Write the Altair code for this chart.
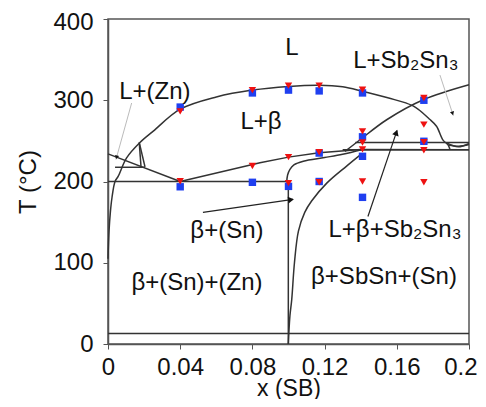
import math
import altair as alt
import pandas as pd

# ---------------- phase boundary data (x = mole fraction SB, T in deg C) ----------------
liq_x = [0.0, 0.0006, 0.0013, 0.0022, 0.0039, 0.0057, 0.0103, 0.0177, 0.0251, 0.04, 0.06,
         0.08, 0.1, 0.117, 0.13, 0.141, 0.155, 0.169, 0.178, 0.182, 0.1856, 0.1884, 0.1895]
liq_T = [105, 140, 162, 180, 200, 206.5, 229, 248, 262, 289, 304,
         312.5, 317, 318.5, 316.5, 311, 303, 293, 277, 268, 251, 245, 239]

sbsn_x = [0.1313, 0.14, 0.1544, 0.1747, 0.2]
sbsn_T = [237, 252, 276, 300.6, 319]

corner_x = [0.099, 0.0995, 0.1008, 0.103, 0.1082, 0.12, 0.13, 0.141]
corner_T = [199, 208, 215, 220.5, 225, 229.5, 233.5, 239.5]

solvus_x = [0.0999, 0.1002, 0.1008, 0.1018, 0.1033, 0.1055, 0.109, 0.1128, 0.1212, 0.1322, 0.1405]
solvus_T = [0, 14, 35, 55, 100, 139, 162, 176, 198, 219, 234]

lens_x = [0.1877, 0.194, 0.2]
lens_T = [247.5, 242.7, 246.8]
lens2_x = [0.1884, 0.1945, 0.2]
lens2_T = [245, 243.5, 245.5]

straight = {
    "eut200": ([0.0, 0.0999], [200, 200]),
    "diag": ([0.0, 0.04], [234, 200]),
    "h217": ([0.0039, 0.0205], [217.5, 217.5]),
    "tri1": ([0.0173, 0.0183], [248, 218]),
    "tri2": ([0.0173, 0.0205], [248, 218]),
    "tie": ([0.04, 0.0842, 0.1, 0.117, 0.14, 0.2], [200, 223, 230, 235.5, 239.5, 239]),
    "h248": ([0.137, 0.2], [248, 248]),
    "h239": ([0.13, 0.2], [239, 239]),
    "v010": ([0.0999, 0.0999], [0, 200]),
    "h13": ([0.0, 0.2], [13, 13]),
}
curves = {
    "liq": (liq_x, liq_T),
    "sbsn": (sbsn_x, sbsn_T),
    "corner": (corner_x, corner_T),
    "solvus": (solvus_x, solvus_T),
    "lens": (lens_x, lens_T),
    "lens2": (lens2_x, lens2_T),
}

# ---------------- experimental points ----------------
sq_x = [0.04, 0.04, 0.08, 0.08, 0.1, 0.1, 0.117, 0.117, 0.117,
        0.141, 0.141, 0.141, 0.141, 0.175, 0.175]
sq_T = [291.6, 193.5, 309, 199, 312.5, 194, 311.5, 235, 200,
        309, 255, 231, 180.5, 300, 249.5]

tr_x = [0.04, 0.04, 0.08, 0.08, 0.1, 0.1, 0.1, 0.117, 0.117, 0.117,
        0.141, 0.141, 0.141, 0.141, 0.141, 0.175, 0.175, 0.175, 0.175, 0.175]
tr_T = [286.3, 200.4, 312.5, 219, 318, 230, 198, 318, 236, 199,
        313, 261.7, 248, 239.5, 200, 302.7, 270, 248.5, 238.5, 199]

# ---------------- labels ----------------
lab_text = ["L", "L+(Zn)", "L+Sb\u2082Sn\u2083", "L+\u03b2", "\u03b2+(Sn)",
            "L+\u03b2+Sb\u2082Sn\u2083", "\u03b2+(Sn)+(Zn)", "\u03b2+SbSn+(Sn)"]
lab_x = [0.1019, 0.026, 0.165, 0.0848, 0.0659, 0.159, 0.0493, 0.1529]
lab_T = [364, 310, 348, 273.6, 138.7, 140, 74.8, 82.2]

# ---------------- arrows (start -> tip) ----------------
arr_x0 = [0.0131, 0.1839, 0.0526, 0.144]
arr_T0 = [296.6, 331, 162, 157]
arr_x1 = [0.0044, 0.1913, 0.1025, 0.1601]
arr_T1 = [227, 281, 178, 262.6]
arr_kind = ["thin", "thin", "bold", "bold"]

W, H = 361, 325
XMAX, TMAX = 0.2, 400
px_x = W / XMAX
px_T = H / TMAX

line_rows = []
for name, (xs, Ts) in straight.items():
    for i, (a, b) in enumerate(zip(xs, Ts)):
        line_rows.append(dict(seg=name, i=i, x=a, T=b))
curve_rows = []
for name, (xs, Ts) in curves.items():
    for i, (a, b) in enumerate(zip(xs, Ts)):
        curve_rows.append(dict(seg=name, i=i, x=a, T=b))
df_lines = pd.DataFrame(line_rows)
df_curves = pd.DataFrame(curve_rows)
df_sq = pd.DataFrame(dict(x=sq_x, T=sq_T))
df_tr = pd.DataFrame(dict(x=tr_x, T=tr_T))
df_lab = pd.DataFrame(dict(x=lab_x, T=lab_T, t=lab_text))

arr_rows, head_rows = [], []
for k in range(len(arr_x0)):
    for i, (a, b) in enumerate([(arr_x0[k], arr_T0[k]), (arr_x1[k], arr_T1[k])]):
        arr_rows.append(dict(a=k, i=i, x=a, T=b, kind=arr_kind[k]))
    dx = (arr_x1[k] - arr_x0[k]) * px_x
    dy = -(arr_T1[k] - arr_T0[k]) * px_T
    ang = math.degrees(math.atan2(dx, -dy)) % 360
    L = math.hypot(dx, dy)
    back = 3.0
    head_rows.append(dict(x=arr_x1[k] - dx / L * back / px_x,
                          T=arr_T1[k] + dy / L * back / px_T,
                          ang=ang, kind=arr_kind[k]))
df_arr = pd.DataFrame(arr_rows)
df_head = pd.DataFrame(head_rows)

FONT = "Liberation Sans"
xs = alt.X("x:Q", scale=alt.Scale(domain=[0, XMAX], nice=False),
           axis=alt.Axis(values=[round(0.02 * k, 2) for k in range(11)],
                         labelExpr="round(datum.value*100) % 4 == 0 ? toString(round(datum.value*100)/100) : ''",
                         title="x (SB)", grid=False, tickSize=5, labelPadding=6,
                         titleY=51, titleBaseline="alphabetic",
                         labelFontSize=24, titleFontSize=23,
                         labelAlign={"condition": {"test": "datum.value > 0.19", "value": "right"}, "value": "center"},
                         labelOffset={"condition": {"test": "datum.value > 0.19", "value": 8}, "value": 0},
                         labelFont=FONT, titleFont=FONT, titleFontWeight="normal",
                         labelColor="#111", titleColor="#111",
                         domainColor="#555", tickColor="#555", domainWidth=1.5,
                         labelFlush=False, labelOverlap=False))
ys = alt.Y("T:Q", scale=alt.Scale(domain=[0, TMAX], nice=False),
           axis=alt.Axis(values=[0, 100, 200, 300, 400], title="T (\u00b0C)", grid=False,
                         tickSize=5, labelPadding=10, titlePadding=12,
                         labelFontSize=24, titleFontSize=24,
                         labelOffset={"condition": {"test": "datum.value == 400", "value": 3}, "value": 0},
                         labelFont=FONT, titleFont=FONT, titleFontWeight="normal",
                         labelColor="#111", titleColor="#111",
                         domainColor="#555", tickColor="#555", domainWidth=1.5))

base_lines = alt.Chart(df_lines).mark_line(color="#333", strokeWidth=1.5).encode(
    x=xs, y=ys, detail="seg:N", order="i:Q")
base_curves = alt.Chart(df_curves).mark_line(color="#333", strokeWidth=1.5,
                                             interpolate="catmull-rom").encode(
    x="x:Q", y="T:Q", detail="seg:N", order="i:Q")

arr_thin = alt.Chart(df_arr[df_arr.kind == "thin"]).mark_line(
    color="#bbbbbb", strokeWidth=1).encode(x="x:Q", y="T:Q", detail="a:N", order="i:Q")
arr_bold = alt.Chart(df_arr[df_arr.kind == "bold"]).mark_line(
    color="#222", strokeWidth=1.2).encode(x="x:Q", y="T:Q", detail="a:N", order="i:Q")
head_thin = alt.Chart(df_head[df_head.kind == "thin"]).mark_point(
    shape="triangle", filled=True, color="#111", size=18, opacity=1).encode(
    x="x:Q", y="T:Q", angle=alt.Angle("ang:Q", scale=None))
head_bold = alt.Chart(df_head[df_head.kind == "bold"]).mark_point(
    shape="triangle", filled=True, color="#111", size=45, opacity=1).encode(
    x="x:Q", y="T:Q", angle=alt.Angle("ang:Q", scale=None))

squares = alt.Chart(df_sq).mark_point(shape="square", filled=True, color="#1f3ff0",
                                      size=55, opacity=1).encode(x="x:Q", y="T:Q")
triangles = alt.Chart(df_tr).mark_point(shape="triangle-down", filled=True, color="#ee1111",
                                        size=55, opacity=1).encode(x="x:Q", y="T:Q")

labels = alt.Chart(df_lab).mark_text(font=FONT, fontSize=24, color="#111",
                                     align="center", baseline="middle").encode(
    x="x:Q", y="T:Q", text="t:N")

chart = alt.layer(base_lines, base_curves, arr_thin, arr_bold, head_thin, head_bold,
                  squares, triangles, labels).properties(
    width=W, height=H,
    autosize=alt.AutoSizeParams(type="none"),
    padding={"left": 100, "top": 11, "right": 9, "bottom": 55},
    background="white",
).configure_view(stroke="#555", strokeWidth=1.5)

chart.save("out.html", embed_options={"renderer": "svg", "actions": False})
